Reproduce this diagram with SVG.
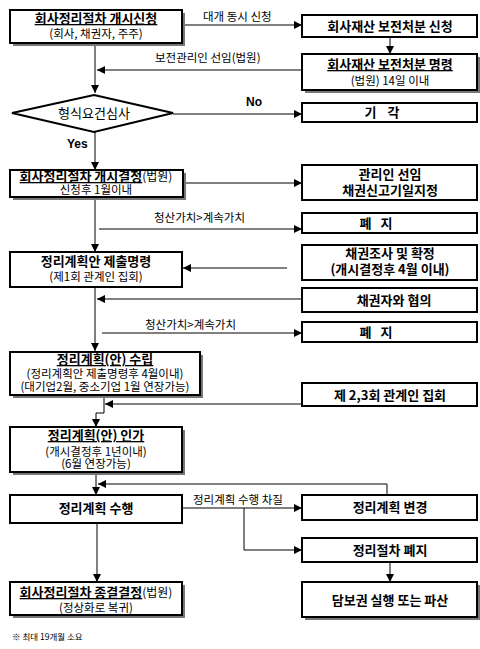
<svg xmlns="http://www.w3.org/2000/svg" width="480" height="649" viewBox="0 0 480 649">
<defs>
<marker id="ah" markerUnits="userSpaceOnUse" markerWidth="8" markerHeight="8" refX="8" refY="4" orient="auto"><path d="M0,0 L8,4 L0,8 z" fill="#000"/></marker>
<style>
.box{fill:#fff;stroke:#000;stroke-width:2}
.sh{fill:#777}
.c{fill:none;stroke:#000;stroke-width:1}
.ca{fill:none;stroke:#000;stroke-width:1;marker-end:url(#ah)}
text{font-family:"Noto Sans CJK KR","Noto Sans",sans-serif;fill:#000}
.t{font-size:13px;font-weight:bold;text-anchor:middle}
.s{font-size:11.5px;text-anchor:middle}
.u{text-decoration:underline}
.l{font-size:11.5px}
.n{font-weight:normal;font-size:12px}
.yn{font-family:"Liberation Sans",Arial,sans-serif;font-size:12px;font-weight:bold}
</style>
</defs>
<rect width="480" height="649" fill="#fff"/>
<g id="connectors">
<path class="ca" d="M183,25 H302"/>
<path class="ca" d="M390,37 V54"/>
<path class="ca" d="M302,70 H97"/>
<path class="ca" d="M95,43 V93"/>
<path class="ca" d="M173,114 H302"/>
<path class="ca" d="M95,132 V170"/>
<path class="ca" d="M183,183 H302"/>
<path class="ca" d="M95,197 V252"/>
<path class="ca" d="M99,229 H302"/>
<path class="ca" d="M287,268 H183"/>
<path class="ca" d="M302,299 H97"/>
<path class="ca" d="M95,287 V351"/>
<path class="ca" d="M102,333 H302"/>
<path class="ca" d="M302,404 H105"/>
<path class="ca" d="M104,395 V413 H96 V427"/>
<path class="ca" d="M96,472 V495"/>
<path class="ca" d="M387,495 V484 H98"/>
<path class="ca" d="M182,508 H302"/>
<path class="ca" d="M244,508 V550 H302"/>
<path class="ca" d="M390,562 V582"/>
<path class="ca" d="M97,523 V582"/>
<text class="l" x="203" y="21">대개 동시 신청</text>
<text class="l" x="155" y="62">보전관리인 선임(법원)</text>
<text class="yn" x="246" y="106">No</text>
<text class="yn" x="67" y="148">Yes</text>
<text class="l" x="154" y="222">청산가치&gt;계속가치</text>
<text class="l" x="145" y="329">청산가치&gt;계속가치</text>
<text class="l" x="193" y="504">정리계획 수행 차질</text>
</g>
<g id="n1">
<rect class="sh" x="13" y="13" width="172" height="33"/>
<rect class="box" x="10" y="10" width="172" height="33"/>
<text class="t" x="96" y="23"><tspan class="u">회사정리절차 개시신청</tspan></text>
<text class="s" x="96" y="38">(회사, 채권자, 주주)</text>
</g>
<g id="n2">
<rect class="box" x="302" y="15" width="175" height="22"/>
<text class="t" x="390" y="31">회사재산 보전처분 신청</text>
</g>
<g id="n3">
<rect class="sh" x="305" y="57" width="175" height="36"/>
<rect class="box" x="302" y="54" width="175" height="36"/>
<text class="t" x="390" y="69"><tspan class="u">회사재산 보전처분 명령</tspan></text>
<text class="s" x="390" y="85">(법원) 14일 이내</text>
</g>
<g id="n4">
<polygon class="box" points="94,95 173,113 94,132 12,113"/>
<text class="t" x="94" y="118" style="font-weight:normal">형식요건심사</text>
</g>
<g id="n5">
<rect class="box" x="302" y="103" width="175" height="19"/>
<text class="t" x="382" y="117" style="word-spacing:8px">기 각</text>
</g>
<g id="n6">
<rect class="sh" x="13" y="173" width="173" height="27"/>
<rect class="box" x="10" y="170" width="173" height="27"/>
<text class="t" x="96" y="181"><tspan class="u">회사정리절차 개시결정</tspan><tspan class="n">(법원)</tspan></text>
<text class="s" x="96" y="194">신청후 1월이내</text>
</g>
<g id="n7">
<rect class="box" x="302" y="165" width="175" height="35"/>
<text class="t" x="390" y="179">관리인 선임</text>
<text class="t" x="390" y="195">채권신고기일지정</text>
</g>
<g id="n8">
<rect class="box" x="302" y="213" width="175" height="20"/>
<text class="t" x="376" y="228" style="word-spacing:6px">폐 지</text>
</g>
<g id="n9">
<rect class="box" x="10" y="252" width="172" height="35"/>
<text class="t" x="96" y="266">정리계획안 제출명령</text>
<text class="s" x="96" y="281">(제1회 관계인 집회)</text>
</g>
<g id="n10">
<rect class="box" x="302" y="245" width="175" height="35"/>
<text class="t" x="390" y="258">채권조사 및 확정</text>
<text class="t" x="390" y="274">(개시결정후 4월 이내)</text>
</g>
<g id="n11">
<rect class="box" x="302" y="288" width="175" height="24"/>
<text class="t" x="394" y="305">채권자와 협의</text>
</g>
<g id="n12">
<rect class="box" x="302" y="322" width="175" height="20"/>
<text class="t" x="376" y="337" style="word-spacing:6px">폐 지</text>
</g>
<g id="n13">
<rect class="sh" x="13" y="355" width="190" height="43"/>
<rect class="box" x="10" y="352" width="190" height="43"/>
<text class="t" x="105" y="364"><tspan class="u">정리계획(안) 수립</tspan></text>
<text class="s" x="105" y="378">(정리계획안 제출명령후 4월이내)</text>
<text class="s" x="105" y="391">(대기업2월, 중소기업 1월 연장가능)</text>
</g>
<g id="n14">
<rect class="box" x="302" y="383" width="175" height="23"/>
<text class="t" x="390" y="400">제 2,3회 관계인 집회</text>
</g>
<g id="n15">
<rect class="sh" x="13" y="430" width="172" height="45"/>
<rect class="box" x="10" y="427" width="172" height="45"/>
<text class="t" x="96" y="440"><tspan class="u">정리계획(안) 인가</tspan></text>
<text class="s" x="96" y="456">(개시결정후 1년이내)</text>
<text class="s" x="96" y="468">(6월 연장가능)</text>
</g>
<g id="n16">
<rect class="box" x="10" y="495" width="172" height="28"/>
<text class="t" x="96" y="513">정리계획 수행</text>
</g>
<g id="n17">
<rect class="box" x="302" y="495" width="175" height="25"/>
<text class="t" x="390" y="512">정리계획 변경</text>
</g>
<g id="n18">
<rect class="box" x="302" y="538" width="175" height="24"/>
<text class="t" x="390" y="555">정리절차 폐지</text>
</g>
<g id="n19">
<rect class="sh" x="305" y="585" width="175" height="35"/>
<rect class="box" x="302" y="582" width="175" height="35"/>
<text class="t" x="390" y="605">담보권 실행 또는 파산</text>
</g>
<g id="n20">
<rect class="sh" x="13" y="585" width="172" height="33"/>
<rect class="box" x="10" y="582" width="172" height="33"/>
<text class="t" x="96" y="597"><tspan class="u">회사정리절차 종결결정</tspan><tspan class="n">(법원)</tspan></text>
<text class="s" x="96" y="612">(정상화로 복귀)</text>
</g>
<text x="12" y="640" style="font-size:8.5px">※ 최대 19개월 소요</text>
</svg>
